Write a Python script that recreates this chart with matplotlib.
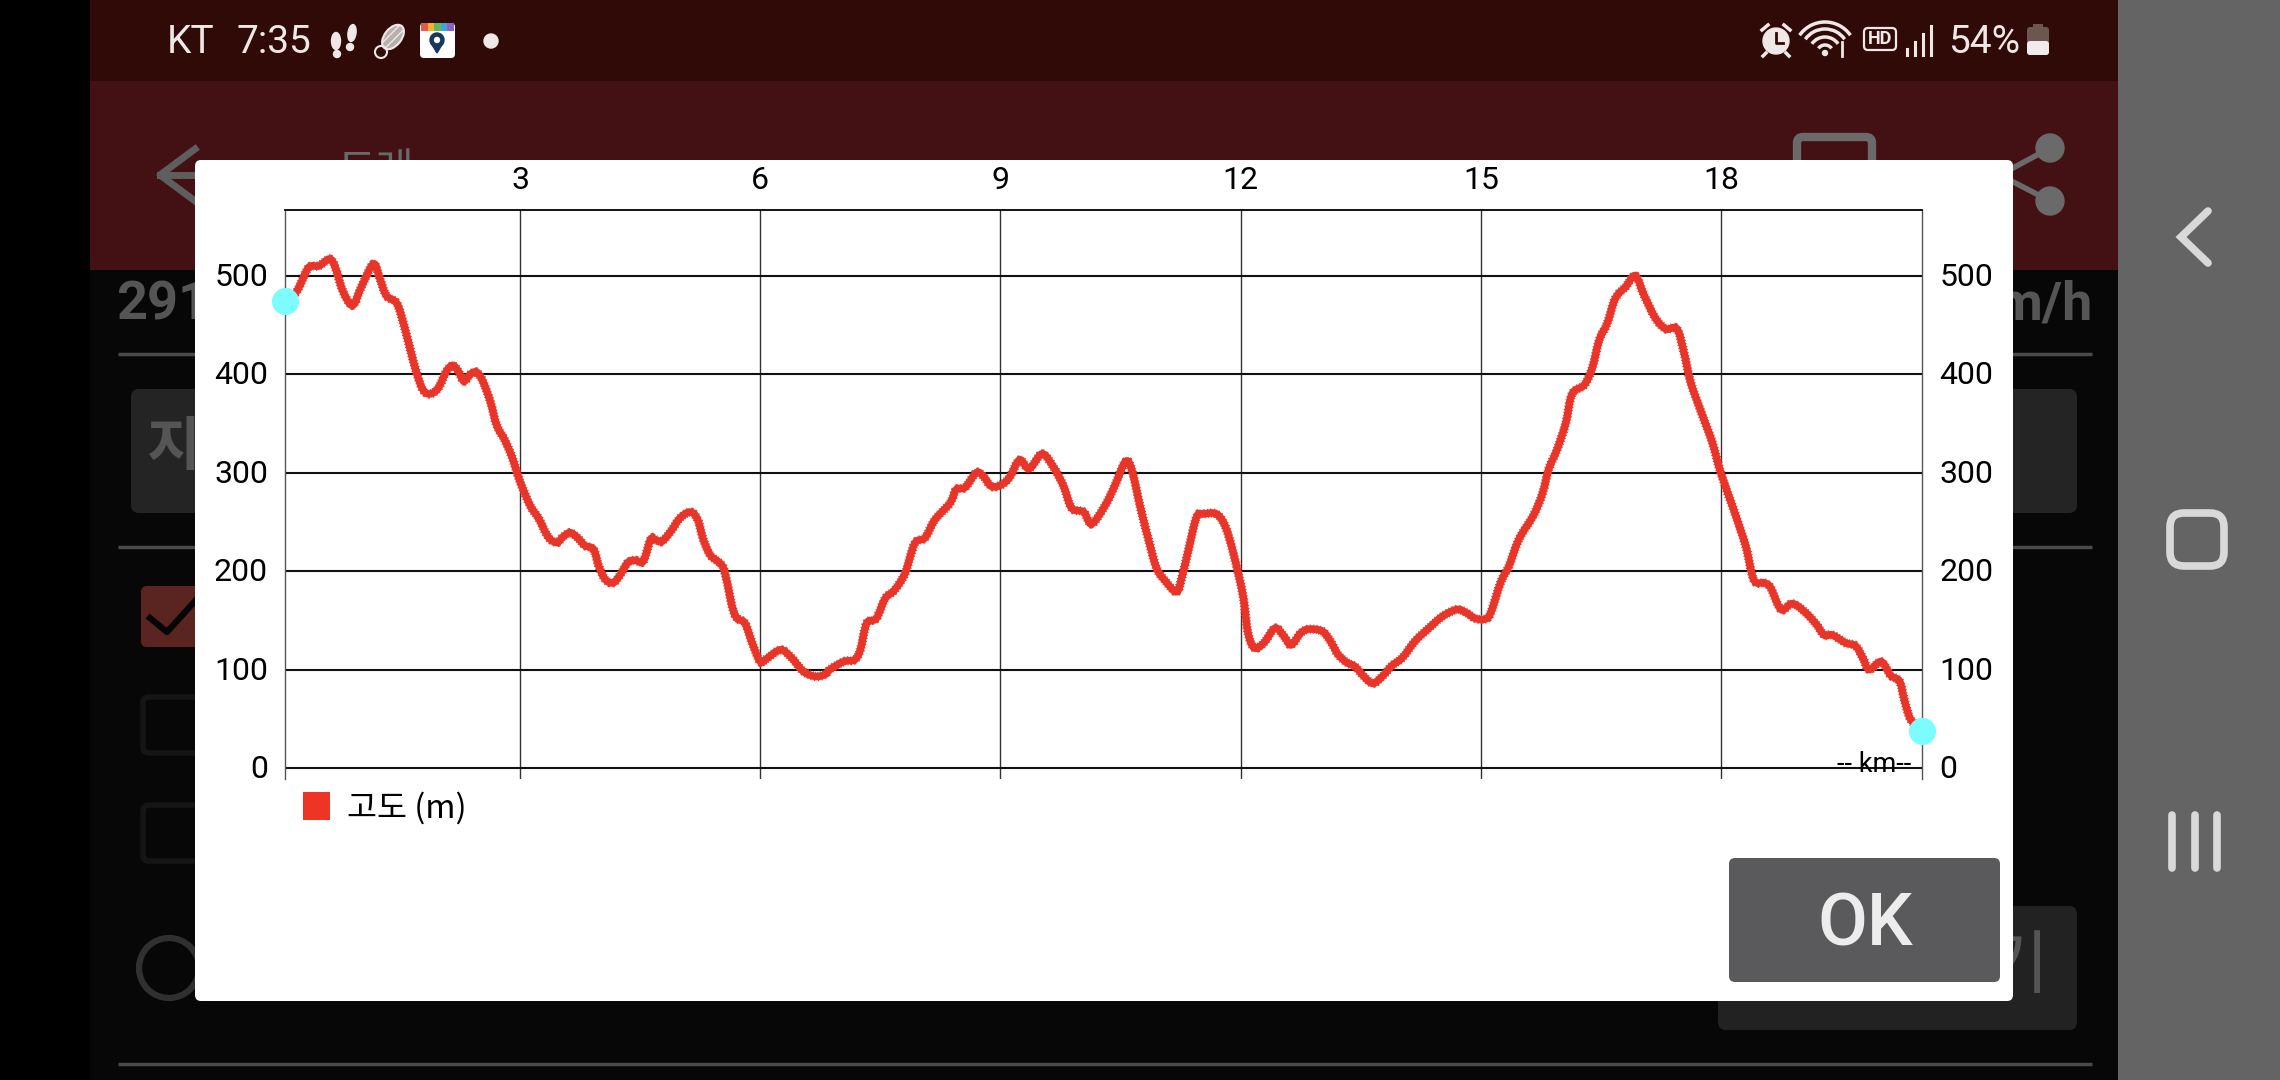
import matplotlib
matplotlib.use('Agg')
import matplotlib.pyplot as plt
from matplotlib.patches import Rectangle, FancyBboxPatch, Circle, Ellipse, Polygon, Arc, PathPatch
from matplotlib.path import Path
from matplotlib.transforms import ScaledTranslation

plt.rcParams['font.family'] = ['Roboto', 'Noto Sans CJK KR', 'DejaVu Sans']

# elevation profile
km = [0.07, 0.21, 0.34, 0.40, 0.49, 0.62, 0.69, 0.79, 0.91, 1.02, 1.17, 1.25, 1.33, 1.46, 1.54,
      1.63, 1.71, 1.79, 1.88, 1.98, 2.08, 2.16, 2.23, 2.30, 2.38, 2.46, 2.54, 2.63, 2.71, 2.81,
      2.90, 3.00, 3.13, 3.23, 3.35, 3.46, 3.54, 3.63, 3.73, 3.81, 3.92, 3.98, 4.06, 4.16, 4.25,
      4.35, 4.44, 4.54, 4.63, 4.69, 4.77, 4.88, 5.00, 5.13, 5.22, 5.29, 5.38, 5.52, 5.58, 5.65,
      5.71, 5.81, 5.90, 6.00, 6.08, 6.25, 6.38, 6.54, 6.69, 6.81, 6.87, 7.04, 7.18, 7.25, 7.33,
      7.45, 7.56, 7.68, 7.81, 7.93, 8.06, 8.18, 8.37, 8.45, 8.56, 8.70, 8.79, 8.89, 9.02, 9.12,
      9.24, 9.36, 9.52, 9.66, 9.79, 9.89, 10.04, 10.14, 10.31, 10.43, 10.56, 10.64, 10.75, 10.85,
      10.95, 11.06, 11.20, 11.27, 11.35, 11.45, 11.54, 11.70, 11.81, 11.91, 12.03, 12.09, 12.17,
      12.29, 12.43, 12.54, 12.63, 12.75, 12.85, 13.02, 13.12, 13.22, 13.33, 13.43, 13.54, 13.65,
      13.77, 13.89, 14.02, 14.18, 14.35, 14.52, 14.70, 14.81, 14.93, 15.04, 15.12, 15.25, 15.35,
      15.48, 15.66, 15.77, 15.85, 15.95, 16.06, 16.14, 16.29, 16.39, 16.48, 16.58, 16.68, 16.81,
      16.93, 17.04, 17.18, 17.31, 17.45, 17.54, 17.62, 17.75, 17.89, 18.00, 18.16, 18.31, 18.41,
      18.54, 18.62, 18.75, 18.89, 19.04, 19.18, 19.29, 19.39, 19.56, 19.68, 19.77, 19.85, 20.00,
      20.12, 20.23, 20.29, 20.37, 20.51]
elevation = [474, 484, 506, 510, 510, 517, 509, 484, 470, 489, 512, 497, 480, 472, 453,
             425, 401, 384, 380, 386, 403, 409, 403, 393, 400, 402, 392, 372, 348, 333,
             316, 291, 266, 254, 235, 229, 235, 239, 233, 226, 222, 206, 192, 188, 196,
             209, 211, 210, 232, 232, 230, 240, 254, 260, 252, 232, 216, 206, 191, 164,
             152, 147, 127, 108, 111, 120, 113, 98, 93, 95, 100, 108, 110, 120, 147,
             152, 172, 181, 198, 228, 234, 252, 269, 283, 285, 300, 296, 286, 288, 296,
             313, 304, 319, 306, 286, 264, 260, 248, 267, 287, 311, 303, 264, 232,
             203, 190, 179, 195, 222, 255, 258, 258, 245, 218, 175, 138, 122,
             127, 142, 134, 125, 137, 141, 139, 129, 115, 107, 103, 93, 86,
             93, 104, 112, 129, 142, 154, 161, 158, 152, 151, 157, 189, 205,
             233, 257, 279, 304, 323, 350, 380, 389, 406, 435, 452, 477, 489,
             500, 480, 457, 446, 446, 421, 392, 362, 331, 299, 262, 225, 191,
             188, 183, 161, 167, 159, 147, 135, 135, 127, 124, 112, 100, 108,
             94, 88, 69, 49, 38]

x_ticks = [3, 6, 9, 12, 15, 18]
y_ticks = [0, 100, 200, 300, 400, 500]

fig = plt.figure(figsize=(22.8, 10.8), dpi=100)

# screen behind the chart, in pixels
bg = fig.add_axes([0, 0, 1, 1])
bg.set_xlim(0, 2280)
bg.set_ylim(1080, 0)
bg.axis('off')


def box(x0, y0, x1, y1, color, z=1, round_size=0, fill=True, lw=0):
    if round_size:
        p = FancyBboxPatch((x0, y0), x1 - x0, y1 - y0, boxstyle='round,pad=0,rounding_size=%d' % round_size,
                           facecolor=color if fill else 'none', edgecolor=color, linewidth=lw, zorder=z)
    else:
        p = Rectangle((x0, y0), x1 - x0, y1 - y0, facecolor=color if fill else 'none',
                      edgecolor=color, linewidth=lw, zorder=z)
    bg.add_patch(p)


# curve through every reading, so the line is round like the app draws it
def curve_through(xs, ys):
    verts = [(xs[0], ys[0])]
    codes = [Path.MOVETO]
    n = len(xs)
    for i in range(n - 1):
        a = max(i - 1, 0)
        d = min(i + 2, n - 1)
        verts.append((xs[i] + (xs[i + 1] - xs[a]) / 6, ys[i] + (ys[i + 1] - ys[a]) / 6))
        verts.append((xs[i + 1] - (xs[d] - xs[i]) / 6, ys[i + 1] - (ys[d] - ys[i]) / 6))
        verts.append((xs[i + 1], ys[i + 1]))
        codes += [Path.CURVE4, Path.CURVE4, Path.CURVE4]
    return Path(verts, codes)


box(0, 0, 90, 1080, '#000000')
box(90, 0, 2118, 81, '#300a06')
box(90, 81, 2118, 270, '#431013')
box(90, 270, 2118, 1080, '#070707')
box(2118, 0, 2280, 1080, '#646464')

# dimmed page under the dialog
for yy in [354, 547, 1064]:
    bg.plot([118, 2092], [yy, yy], color='#4a4a4a', lw=2.5, zorder=2, solid_capstyle='butt')
box(131, 389, 2077, 513, '#242424', z=2, round_size=8)
box(1718, 906, 2077, 1030, '#222222', z=2, round_size=8)
box(141, 586, 240, 647, '#5a2420', z=2, round_size=6)
bg.plot([150, 167, 196], [618, 632, 600], color='#050505', lw=4.5, zorder=3)
box(143, 697, 230, 753, '#151515', z=2, round_size=6, fill=False, lw=4)
box(143, 805, 230, 861, '#151515', z=2, round_size=6, fill=False, lw=4)
bg.add_patch(Circle((169, 968), 30, facecolor='none', edgecolor='#303030', lw=4.5, zorder=2))
bg.text(116, 305, '291', fontsize=39, fontweight='bold', color='#555555', va='center', zorder=2)
bg.text(2092, 305, 'm/h', fontsize=39, fontweight='bold', color='#555555', va='center', ha='right', zorder=2)
bg.text(146, 450, '지', fontsize=42, fontweight='bold', color='#555555', va='center', zorder=3)
bg.text(1985, 968, '기', fontsize=50, color='#555555', va='center', zorder=3)

# app bar
bg.plot([195, 160, 195], [149, 175, 201], color='#5e5e5e', lw=5, zorder=2)
bg.plot([160, 215], [175, 175], color='#5e5e5e', lw=5, zorder=2)
bg.text(338, 172, '트레', fontsize=30, color='#6a6a6a', va='center', zorder=2)
box(1797, 137, 1872, 190, '#6a6a6a', z=2, round_size=6, fill=False, lw=6)
bg.add_patch(Circle((2050, 148), 14, color='#6a6a6a', zorder=2))
bg.add_patch(Circle((2050, 201), 14, color='#6a6a6a', zorder=2))
bg.plot([2050, 2000, 2050], [148, 175, 201], color='#6a6a6a', lw=4, zorder=2)

# status bar
bar_text = '#f0e8e6'
bg.text(167, 53, 'KT', fontsize=28, color=bar_text, va='baseline')
bg.text(236, 53, '7:35', fontsize=28, color=bar_text, va='baseline')
bg.add_patch(Ellipse((336, 41), 9, 17, color=bar_text))
bg.add_patch(Circle((337, 54), 3.5, color=bar_text))
bg.add_patch(Ellipse((352, 33), 8, 17, angle=8, color=bar_text))
bg.add_patch(Circle((350, 47), 3.5, color=bar_text))
bg.add_patch(Ellipse((393, 37), 17, 28, angle=38, facecolor='#b8b0ae', edgecolor=bar_text, lw=1.5, hatch='////'))
bg.add_patch(Circle((381, 52), 6, facecolor='none', edgecolor=bar_text, lw=1.5))
box(420, 23, 455, 58, '#ffffff', z=3, round_size=4)
for i, c in enumerate(['#e8574a', '#f2b233', '#62b95c', '#3fa6dd', '#8a63c9']):
    box(421 + i * 6.6, 23, 428 + i * 6.6, 31, c, z=4)
bg.add_patch(Circle((437, 40), 7, color='#17375e', zorder=5))
bg.add_patch(Polygon([[431, 43], [443, 43], [437, 53]], color='#17375e', zorder=5))
bg.add_patch(Circle((437, 40), 2.5, color='#ffffff', zorder=6))
bg.add_patch(Circle((491, 41), 7, color=bar_text))

bg.add_patch(Circle((1776, 41), 13, color=bar_text))
bg.plot([1776, 1776, 1783], [33, 43, 43], color='#300a06', lw=2)
bg.plot([1762, 1768], [30, 25], color=bar_text, lw=2.5)
bg.plot([1790, 1784], [30, 25], color=bar_text, lw=2.5)
bg.plot([1766, 1763], [53, 56], color=bar_text, lw=2.5)
bg.plot([1786, 1789], [53, 56], color=bar_text, lw=2.5)
for r in [8, 16, 24, 31]:
    bg.add_patch(Arc((1825, 53), r * 2, r * 2, theta1=215, theta2=325, color=bar_text, lw=2.5))
bg.add_patch(Circle((1825, 53), 2.5, color=bar_text))
bg.plot([1842, 1842], [42, 56], color=bar_text, lw=2)
box(1864, 28, 1896, 50, bar_text, z=2, round_size=4, fill=False, lw=1.6)
bg.text(1880, 39, 'HD', fontsize=13, color=bar_text, ha='center', va='center', fontweight='bold')
for sx, sy in zip([1907, 1915, 1923, 1931], [49, 42, 34, 26]):
    bg.plot([sx, sx], [sy, 55], color=bar_text, lw=2.2)
bg.text(1948, 53, '54%', fontsize=28, color=bar_text, va='baseline')
box(2027, 27, 2049, 55, '#6d5550', z=2, round_size=3)
box(2033, 24, 2043, 28, '#6d5550', z=2)
box(2027, 41, 2049, 55, '#f0ecec', z=3, round_size=3)

# navigation bar
nav = '#d9d9d9'
bg.plot([2208, 2181, 2208], [211, 237, 263], color=nav, lw=5.5, solid_capstyle='round', solid_joinstyle='miter')
box(2170, 513, 2224, 566, nav, z=2, round_size=14, fill=False, lw=5.5)
for bx in [2172, 2195, 2217]:
    bg.plot([bx, bx], [815, 868], color=nav, lw=5.5, solid_capstyle='round')

# dialog
box(195, 160, 2013, 1001, '#ffffff', z=10, round_size=6)
box(1729, 858, 2000, 982, '#5a5a5c', z=11, round_size=6)
bg.text(1865, 926, 'OK', fontsize=52, fontweight='medium', color='#ececec', ha='center', va='center', zorder=12)
box(303, 792, 330, 820, '#ee3424', z=11)
bg.text(347, 808, '고도 (m)', fontsize=23.5, color='black', va='center', zorder=12,
        family=['Noto Sans CJK KR', 'DejaVu Sans'])

# chart
left, right, top, bottom = 285.4, 1922, 210, 779
ax = fig.add_axes([left / 2280, 1 - bottom / 1080, (right - left) / 2280, (bottom - top) / 1080])
ax.set_facecolor('white')
ax.set_xlim(km[0], km[-1])
ax.set_ylim(-11.2, 566.8)
elev_path = curve_through(km, elevation)
ax.add_patch(PathPatch(elev_path, facecolor='none', edgecolor='#e8352a', lw=5.4, zorder=4, capstyle='round'))
# the app's line has a fine toothed edge
ax.add_patch(PathPatch(elev_path, facecolor='none', edgecolor='#e8352a', lw=6.6, zorder=4,
                       linestyle=(0, (0.12, 0.22)), capstyle='butt'))
ax.plot([km[0], km[-1]], [elevation[0], elevation[-1]], 'o', color='#7dfcff', ms=19.5, mew=0,
        zorder=5, clip_on=False)

ax.set_xticks(x_ticks)
ax.set_yticks(y_ticks)
ax.xaxis.tick_top()
ax.tick_params(axis='x', length=0, pad=11, labelsize=23)
ax.tick_params(axis='y', length=0, pad=12.5, labelsize=23, labelleft=True, labelright=True)
up = ScaledTranslation(0, 1.5 / 100, fig.dpi_scale_trans)
for tick in ax.yaxis.get_major_ticks():
    tick.label1.set_transform(tick.label1.get_transform() + up)
    tick.label2.set_transform(tick.label2.get_transform() + up)
ax.grid(axis='y', color='#111111', lw=1.5, zorder=1)
ax.grid(axis='x', color='#333333', lw=1, zorder=1)
ax.set_axisbelow(True)
ax.spines['bottom'].set_visible(False)
ax.spines['top'].set_linewidth(1.3)
ax.spines['left'].set_color('#555555')
ax.spines['right'].set_color('#555555')
ax.spines['left'].set_linewidth(1)
ax.spines['right'].set_linewidth(1)
ax.annotate('-- km--', xy=(1, 0), xycoords='axes fraction', xytext=(-8, 1), textcoords='offset points',
            ha='right', va='bottom', fontsize=19.5, zorder=6)

fig.savefig('out.png', dpi=100)
